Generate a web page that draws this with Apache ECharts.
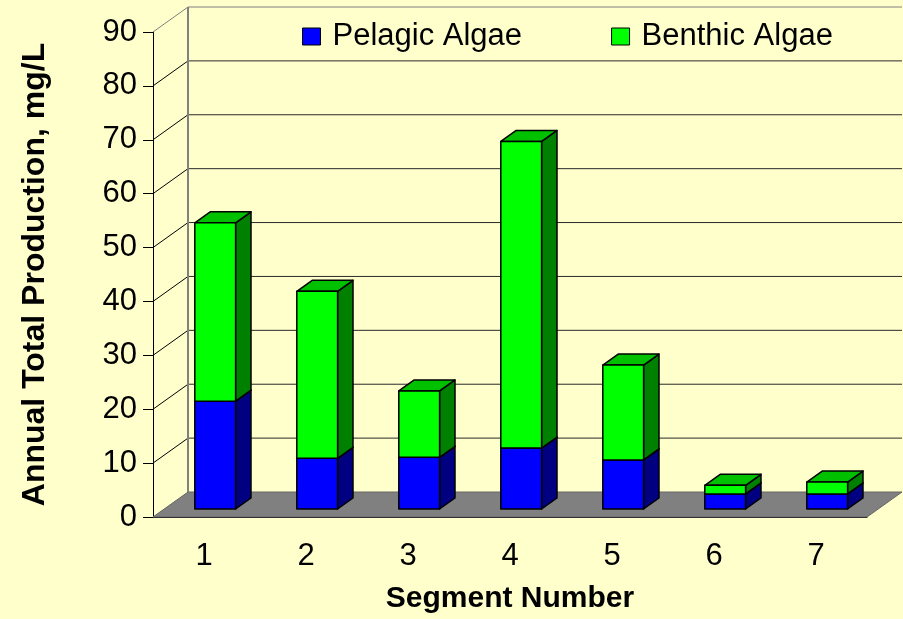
<!DOCTYPE html>
<html>
<head>
<meta charset="utf-8">
<script src="https://cdn.jsdelivr.net/npm/echarts@6/dist/echarts.min.js"></script>
<style>
  html, body { margin: 0; padding: 0; background: #FFFFCC; }
  #chart { width: 903px; height: 619px; }
</style>
</head>
<body>
<div id="chart"></div>
<script>
// Annual production per segment, mg/L
const segments = ['1', '2', '3', '4', '5', '6', '7'];
const pelagic = [20.0, 9.4, 9.6, 11.3, 9.1, 2.8, 2.8];
const benthic = [33.1, 31.0, 12.3, 56.9, 17.6, 1.6, 2.2];
const yTicks = [0, 10, 20, 30, 40, 50, 60, 70, 80, 90];

// 3D look: depth offset of the plot box, and the slab of depth the bars occupy
const DEPTH = [35, -25];
const BAR_FRONT = 0.32, BAR_BACK = 0.76, BAR_WIDTH = 0.40;
const FONT = '"Liberation Sans", Arial, sans-serif';

const palette = {
  pelagic: { front: '#0000FF', side: '#000080', top: '#0000C0' },
  benthic: { front: '#00FF00', side: '#008000', top: '#00C000' }
};

// floor, back wall grid lines and side wall diagonals
function renderWalls(params, api) {
  const cs = params.coordSys;
  const L = cs.x, R = cs.x + cs.width;
  const dx = DEPTH[0], dy = DEPTH[1];
  const y0 = api.coord([0, yTicks[0]])[1];
  const yTop = api.coord([0, yTicks[yTicks.length - 1]])[1];
  const children = [];
  children.push({
    type: 'polygon',
    shape: { points: [[L, y0], [R, y0], [R + dx, y0 + dy], [L + dx, y0 + dy]] },
    style: { fill: '#808080', stroke: '#666666', lineWidth: 1 }
  });
  yTicks.forEach((v, k) => {
    if (k === 0) return;
    const y = api.coord([0, v])[1];
    const isTop = k === yTicks.length - 1;
    children.push({
      type: 'line',
      shape: { x1: L, y1: y, x2: L + dx, y2: y + dy },
      style: { stroke: isTop ? '#808080' : '#000000', lineWidth: 1 }
    });
    children.push({
      type: 'line',
      shape: { x1: L + dx, y1: y + dy, x2: R + dx, y2: y + dy },
      style: { stroke: isTop ? '#808080' : '#2a2a2a', lineWidth: 1 }
    });
  });
  children.push({
    type: 'line',
    shape: { x1: L + dx, y1: y0 + dy, x2: L + dx, y2: yTop + dy },
    style: { stroke: '#808080', lineWidth: 2 }
  });
  return { type: 'group', children };
}

// one stacked segment drawn as a box: front, right side, top
function boxRenderer(colors) {
  return function (params, api) {
    const i = api.value(0);
    const lo = api.value(1), hi = api.value(2);
    const band = api.size([1, 0])[0];
    const pLo = api.coord([i, lo]);
    const pHi = api.coord([i, hi]);
    const w = band * BAR_WIDTH;
    const x1 = pLo[0] - w / 2 + BAR_FRONT * DEPTH[0];
    const x2 = x1 + w;
    const yb = pLo[1] + BAR_FRONT * DEPTH[1];
    const yt = pHi[1] + BAR_FRONT * DEPTH[1];
    const ddx = (BAR_BACK - BAR_FRONT) * DEPTH[0];
    const ddy = (BAR_BACK - BAR_FRONT) * DEPTH[1];
    const edge = { stroke: '#000000', lineWidth: 1.5, lineJoin: 'round' };
    return {
      type: 'group',
      children: [
        {
          type: 'polygon',
          shape: { points: [[x2, yb], [x2 + ddx, yb + ddy], [x2 + ddx, yt + ddy], [x2, yt]] },
          style: Object.assign({ fill: colors.side }, edge)
        },
        {
          type: 'polygon',
          shape: { points: [[x1, yt], [x2, yt], [x2 + ddx, yt + ddy], [x1 + ddx, yt + ddy]] },
          style: Object.assign({ fill: colors.top }, edge)
        },
        {
          type: 'rect',
          shape: { x: x1, y: yt, width: w, height: yb - yt },
          style: Object.assign({ fill: colors.front }, edge)
        }
      ]
    };
  };
}

const pelagicData = segments.map((s, i) => [i, 0, pelagic[i]]);
const benthicData = segments.map((s, i) => [i, pelagic[i], pelagic[i] + benthic[i]]);

const chart = echarts.init(document.getElementById('chart'), null, { renderer: 'canvas' });
chart.setOption({
  backgroundColor: '#FFFFCC',
  animation: false,
  textStyle: { fontFamily: FONT },
  legend: {
    data: ['Pelagic Algae', 'Benthic Algae'],
    left: 297,
    top: 16,
    icon: 'rect',
    itemWidth: 18,
    itemHeight: 17,
    itemGap: 89,
    itemStyle: { borderColor: '#000000', borderWidth: 1 },
    textStyle: { fontFamily: FONT, fontSize: 31, color: '#000000', padding: [0, 0, 0, 7] }
  },
  grid: { left: 153, right: 36, top: 32, bottom: 101, containLabel: false },
  xAxis: {
    type: 'category',
    data: segments,
    name: 'Segment Number',
    nameLocation: 'middle',
    nameGap: 67,
    nameTextStyle: { fontFamily: FONT, fontSize: 30, fontWeight: 'bold', color: '#000000' },
    axisLine: { lineStyle: { color: '#000000', width: 1 } },
    axisTick: { length: 9, lineStyle: { color: '#000000' } },
    axisLabel: { fontFamily: FONT, fontSize: 31, color: '#000000', margin: 24 },
    splitLine: { show: false }
  },
  yAxis: {
    type: 'value',
    min: 0,
    max: 90,
    interval: 10,
    name: 'Annual Total Production, mg/L',
    nameLocation: 'middle',
    nameGap: 102,
    nameTextStyle: { fontFamily: FONT, fontSize: 32, fontWeight: 'bold', color: '#000000' },
    axisLine: { show: true, lineStyle: { color: '#000000', width: 1 } },
    axisTick: { show: true, length: 10, lineStyle: { color: '#000000' } },
    axisLabel: { fontFamily: FONT, fontSize: 31, color: '#000000', margin: 16, padding: [5, 0, 0, 0] },
    splitLine: { show: false }
  },
  series: [
    {
      type: 'custom',
      name: 'walls',
      silent: true,
      clip: false,
      renderItem: renderWalls,
      data: [[0, 0]],
      z: 1
    },
    {
      type: 'custom',
      name: 'Pelagic Algae',
      clip: false,
      renderItem: boxRenderer(palette.pelagic),
      itemStyle: { color: palette.pelagic.front },
      encode: { x: 0, y: [1, 2] },
      data: pelagicData,
      z: 2
    },
    {
      type: 'custom',
      name: 'Benthic Algae',
      clip: false,
      renderItem: boxRenderer(palette.benthic),
      itemStyle: { color: palette.benthic.front },
      encode: { x: 0, y: [1, 2] },
      data: benthicData,
      z: 3
    }
  ]
});
</script>
</body>
</html>
